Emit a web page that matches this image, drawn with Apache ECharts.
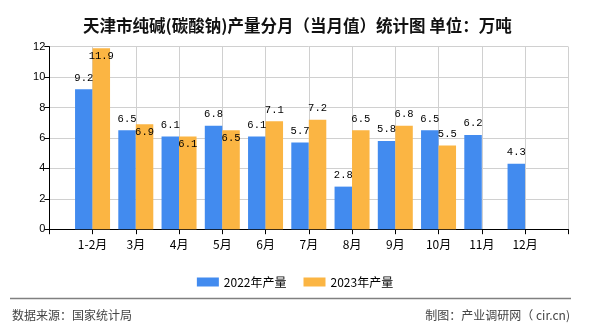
<!DOCTYPE html>
<html>
<head>
<meta charset="utf-8">
<script src="https://cdn.jsdelivr.net/npm/echarts@6/dist/echarts.min.js"></script>
<style>
html,body{margin:0;padding:0;background:#fff;}
#c{width:590px;height:330px;}
</style>
</head>
<body>
<div id="c"></div>
<script>
const categories = ['1-2月','3月','4月','5月','6月','7月','8月','9月','10月','11月','12月'];
const values2022 = [9.2, 6.5, 6.1, 6.8, 6.1, 5.7, 2.8, 5.8, 6.5, 6.2, 4.3];
const values2023 = [11.9, 6.9, 6.1, 6.5, 7.1, 7.2, 6.5, 6.8, 5.5, null, null];
const yTicks = [0, 2, 4, 6, 8, 10, 12];
const seriesNames = ['2022年产量', '2023年产量'];

// label style: orange labels drawn inside the bar top for these categories
const insideLabelIdx = [0, 1, 2, 3];

const axisCats = [''].concat(categories, ['']);
const d2022 = [null].concat(values2022, [null]);
const d2023 = [null].concat(values2023.map((v, i) => {
  if (v == null) return null;
  if (insideLabelIdx.indexOf(i) >= 0) {
    return { value: v, label: { position: 'insideTop', distance: 2 } };
  }
  return v;
}), [null]);

const labelFont = { fontFamily: 'Liberation Mono', fontSize: 10.5, color: '#000' };

const chart = echarts.init(document.getElementById('c'), null, { renderer: 'canvas' });
chart.setOption({
  animation: false,
  backgroundColor: '#fff',
  title: {
    text: '天津市纯碱(碳酸钠)产量分月（当月值）统计图 单位：万吨',
    left: 78, top: 12,
    textStyle: { fontFamily: 'Noto Sans CJK SC', fontSize: 16.5, fontWeight: 'bold', color: '#111' }
  },
  legend: {
    data: seriesNames,
    left: 'center', top: 271,
    itemWidth: 22, itemHeight: 9, itemGap: 17,
    icon: 'rect',
    textStyle: { fontFamily: 'Noto Sans CJK SC', fontSize: 12, color: '#000' }
  },
  grid: { left: 49.3, right: 21.7, top: 46.7, bottom: 100.8, containLabel: false },
  xAxis: {
    type: 'category',
    data: axisCats,
    boundaryGap: false,
    axisLine: { lineStyle: { color: '#000', width: 1 } },
    axisTick: { show: true, length: 5, lineStyle: { color: '#000' } },
    axisLabel: { interval: 0, margin: 9, fontFamily: 'Noto Sans CJK SC', fontSize: 12, color: '#000' },
    splitLine: { show: true, lineStyle: { color: '#d0d0d0', width: 1 } }
  },
  yAxis: {
    type: 'value',
    min: yTicks[0], max: yTicks[yTicks.length - 1], interval: 2,
    axisLine: { show: true, lineStyle: { color: '#000', width: 1 } },
    axisTick: { show: true, length: 5, lineStyle: { color: '#000' } },
    axisLabel: { margin: 4, fontFamily: 'Liberation Sans', fontSize: 11, color: '#000' },
    splitLine: { show: true, lineStyle: { color: '#d0d0d0', width: 1 } }
  },
  series: [
    {
      name: seriesNames[0], type: 'bar', data: d2022,
      barWidth: 17.5, barGap: '0%',
      itemStyle: { color: '#428BEF' },
      label: Object.assign({ show: true, position: 'top', distance: 6 }, labelFont)
    },
    {
      name: seriesNames[1], type: 'bar', data: d2023,
      barWidth: 17.5, barGap: '0%',
      itemStyle: { color: '#FBB543' },
      label: Object.assign({ show: true, position: 'top', distance: 6 }, labelFont)
    }
  ],
  graphic: [
    { type: 'line', shape: { x1: 10, y1: 298.5, x2: 571, y2: 298.5 }, style: { stroke: '#808080', lineWidth: 1.5 }, silent: true },
    { type: 'text', left: 12, top: 309, style: { text: '数据来源：国家统计局', font: '12px "Noto Sans CJK SC"', fill: '#444' } },
    { type: 'text', right: 20, top: 309, style: { text: '制图：产业调研网（ cir.cn)', font: '12px "Noto Sans CJK SC"', fill: '#444' } }
  ]
});
</script>
</body>
</html>
